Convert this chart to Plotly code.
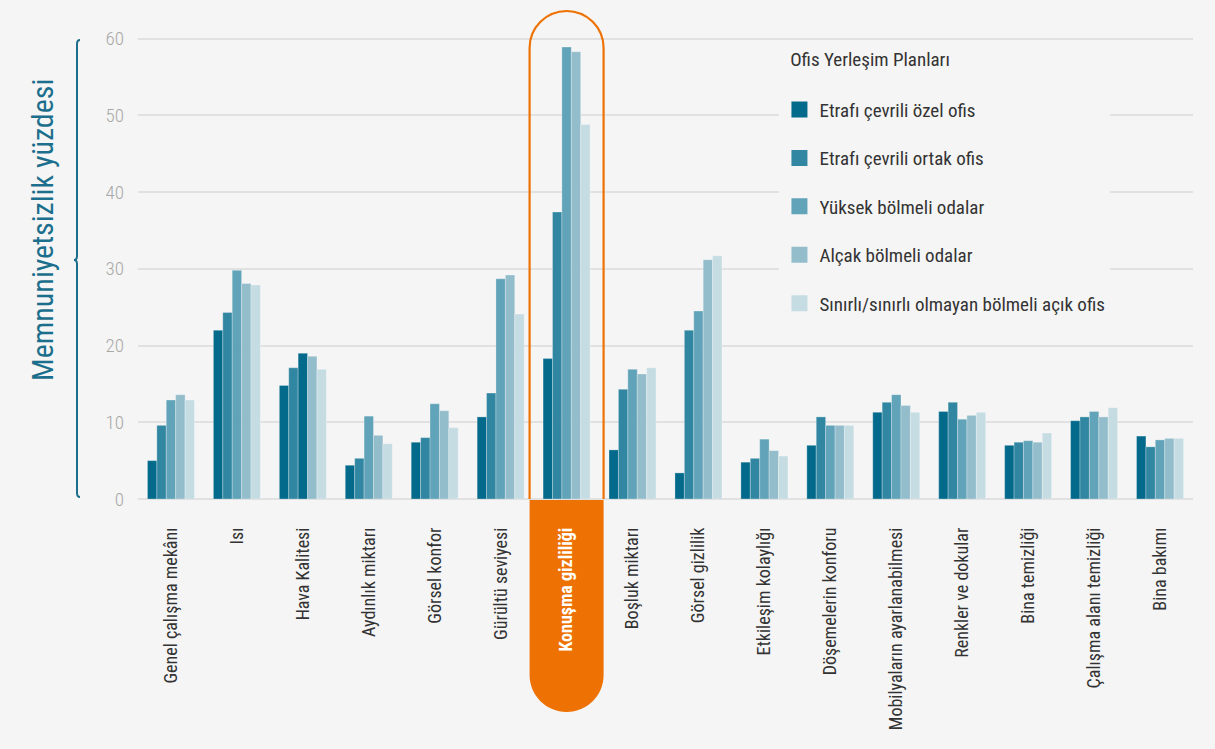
import plotly.graph_objects as go

# ---------------- data ----------------
categories = ["Genel çalışma mekânı", "Isı", "Hava Kalitesi", "Aydınlık miktarı",
              "Görsel konfor", "Gürültü seviyesi", "Konuşma gizliliği", "Boşluk miktarı",
              "Görsel gizlilik", "Etkileşim kolaylığı", "Döşemelerin konforu",
              "Mobilyaların ayarlanabilmesi", "Renkler ve dokular", "Bina temizliği",
              "Çalışma alanı temizliği", "Bina bakımı"]

series_names = ["Etrafı çevrili özel ofis", "Etrafı çevrili ortak ofis",
                "Yüksek bölmeli odalar", "Alçak bölmeli odalar",
                "Sınırlı/sınırlı olmayan bölmeli açık ofis"]

ozel_ofis    = [5.0, 22.0, 14.8, 4.4, 7.4, 10.7, 18.3, 6.4, 3.4, 4.8, 7.0, 11.3, 11.4, 7.0, 10.2, 8.2]
ortak_ofis   = [9.6, 24.3, 17.1, 5.3, 8.0, 13.8, 37.4, 14.3, 22.0, 5.3, 10.7, 12.6, 12.6, 7.4, 10.7, 6.8]
yuksek_bolme = [12.9, 29.8, 19.0, 10.8, 12.4, 28.7, 58.9, 16.9, 24.5, 7.8, 9.6, 13.6, 10.4, 7.6, 11.4, 7.7]
alcak_bolme  = [13.6, 28.1, 18.6, 8.3, 11.5, 29.2, 58.3, 16.3, 31.2, 6.3, 9.6, 12.2, 10.9, 7.4, 10.7, 7.9]
acik_ofis    = [12.9, 27.9, 16.9, 7.2, 9.3, 24.1, 48.8, 17.1, 31.7, 5.6, 9.6, 11.3, 11.3, 8.6, 11.9, 7.9]

y_ticks = [0, 10, 20, 30, 40, 50, 60]
highlight = "Konuşma gizliliği"

legend_title = "Ofis Yerleşim Planları"
y_title = "Memnuniyetsizlik yüzdesi"

# ---------------- style ----------------
colors = ["#046a8b", "#3186a1", "#61a3b8", "#94bdcc", "#c6dce3"]
ORANGE = "#ee7203"
TEAL = "#1c6f8c"
BG = "#f5f5f5"
FONT = "Roboto Condensed, Liberation Sans Narrow, Roboto, sans-serif"

values = [ozel_ofis, ortak_ofis, yuksek_bolme, alcak_bolme, acik_ofis]

fig = go.Figure()
for i, (name, vals) in enumerate(zip(series_names, values)):
    col = [colors[i]] * len(vals)
    if i == 2:
        col[2] = colors[0]  # the reference draws this one bar in the darkest tone
    fig.add_trace(go.Bar(
        x=categories, y=vals, name=name, legendgroup=f"g{i}", showlegend=False,
        marker=dict(color=col, line=dict(color="rgba(255,255,255,0.35)", width=0.8)),
    ))
    # legend proxy with a larger square symbol
    fig.add_trace(go.Scatter(
        x=[None], y=[None], mode="markers", name=name, legendgroup=f"g{i}",
        marker=dict(symbol="square", size=16, color=colors[i]),
        showlegend=True, hoverinfo="skip",
    ))

ticktext = [f"<b><span style='color:white'>{c}</span></b>" if c == highlight else c
            for c in categories]

L, R, T, B = 138, 22, 31, 250
W, H = 1215, 749
n = len(categories)
hi_idx = categories.index(highlight)
x_center_paper = (hi_idx + 0.5) / n

# highlight box geometry (pixels, relative to category center / baseline)
hw = 37.0          # half width
top_up = 488.0     # outline height above baseline
bot_down = 213.0   # filled part below baseline
k = 0.5523 * hw
h_top = top_up - hw
h_bot = bot_down - hw

outline_path = (f"M {-hw},0 L {-hw},{h_top} "
                f"C {-hw},{h_top + k} {-k},{top_up} 0,{top_up} "
                f"C {k},{top_up} {hw},{h_top + k} {hw},{h_top} L {hw},0")
fill_path = (f"M {-hw},1 L {-hw},{-h_bot} "
             f"C {-hw},{-h_bot - k} {-k},{-bot_down} 0,{-bot_down} "
             f"C {k},{-bot_down} {hw},{-h_bot - k} {hw},{-h_bot} L {hw},1 Z")

shapes = [
    dict(type="path", xref="paper", yref="paper", xsizemode="pixel", ysizemode="pixel",
         xanchor=x_center_paper, yanchor=0, path=fill_path,
         fillcolor=ORANGE, line=dict(width=0), layer="below"),
    dict(type="path", xref="paper", yref="paper", xsizemode="pixel", ysizemode="pixel",
         xanchor=x_center_paper, yanchor=0, path=outline_path,
         line=dict(color=ORANGE, width=2.2), layer="above"),
]

# curly brace beside the y-axis title
bx, tip, endx = -61, -64, -58
yb, yt, ym = 2, 459, 239
brace_path = (f"M {endx},{yb} Q {bx},{yb} {bx},{yb + 4} L {bx},{ym - 4} "
              f"Q {bx},{ym} {tip},{ym} Q {bx},{ym} {bx},{ym + 4} "
              f"L {bx},{yt - 4} Q {bx},{yt} {endx},{yt}")
shapes.append(dict(type="path", xref="paper", yref="paper", xsizemode="pixel",
                   ysizemode="pixel", xanchor=0, yanchor=0, path=brace_path,
                   line=dict(color=TEAL, width=2), layer="above"))

fig.update_layout(
    width=W, height=H,
    margin=dict(l=L, r=R, t=T, b=B, autoexpand=False),
    paper_bgcolor=BG, plot_bgcolor=BG,
    font=dict(family=FONT, color="#333333"),
    barmode="group", bargap=0.287, bargroupgap=0,
    shapes=shapes,
    showlegend=True,
    legend=dict(
        title=dict(text="\u00a0\u00a0" + legend_title + "<br> ",
                   font=dict(size=19, color="#333333", family=FONT)),
        font=dict(size=19, color="#333333", family=FONT),
        x=0.608, xanchor="left", y=0.978, yanchor="top",
        bgcolor=BG, tracegroupgap=20.7, itemclick=False,
    ),
    annotations=[dict(
        text=y_title, xref="paper", yref="paper", x=0, y=0,
        xshift=-96, yshift=269, xanchor="center", yanchor="middle",
        textangle=-90, showarrow=False,
        font=dict(size=30, color=TEAL, family=FONT),
    )],
)

fig.update_xaxes(
    type="category", tickmode="array", tickvals=categories, ticktext=ticktext,
    tickangle=-90, tickfont=dict(size=18, color="#333333", family=FONT),
    ticks="", ticklabelstandoff=24, showgrid=False, showline=False, zeroline=False,
    range=[-0.5, n - 0.5], automargin=False,
)
fig.update_yaxes(
    range=[0, 61], tickmode="array", tickvals=y_ticks,
    tickfont=dict(size=19, color="#a8a8a8", family=FONT, weight=300),
    ticks="", ticklabelstandoff=13, automargin=False,
    showgrid=True, gridcolor="#e1e1e1", gridwidth=1.5,
    zeroline=True, zerolinecolor="#e1e1e1", zerolinewidth=1.5, showline=False,
)

fig.write_html("out.html",
               config={"displayModeBar": False},
               post_script="document.body.style.margin='0';"
                           "document.body.style.background='" + BG + "';")
